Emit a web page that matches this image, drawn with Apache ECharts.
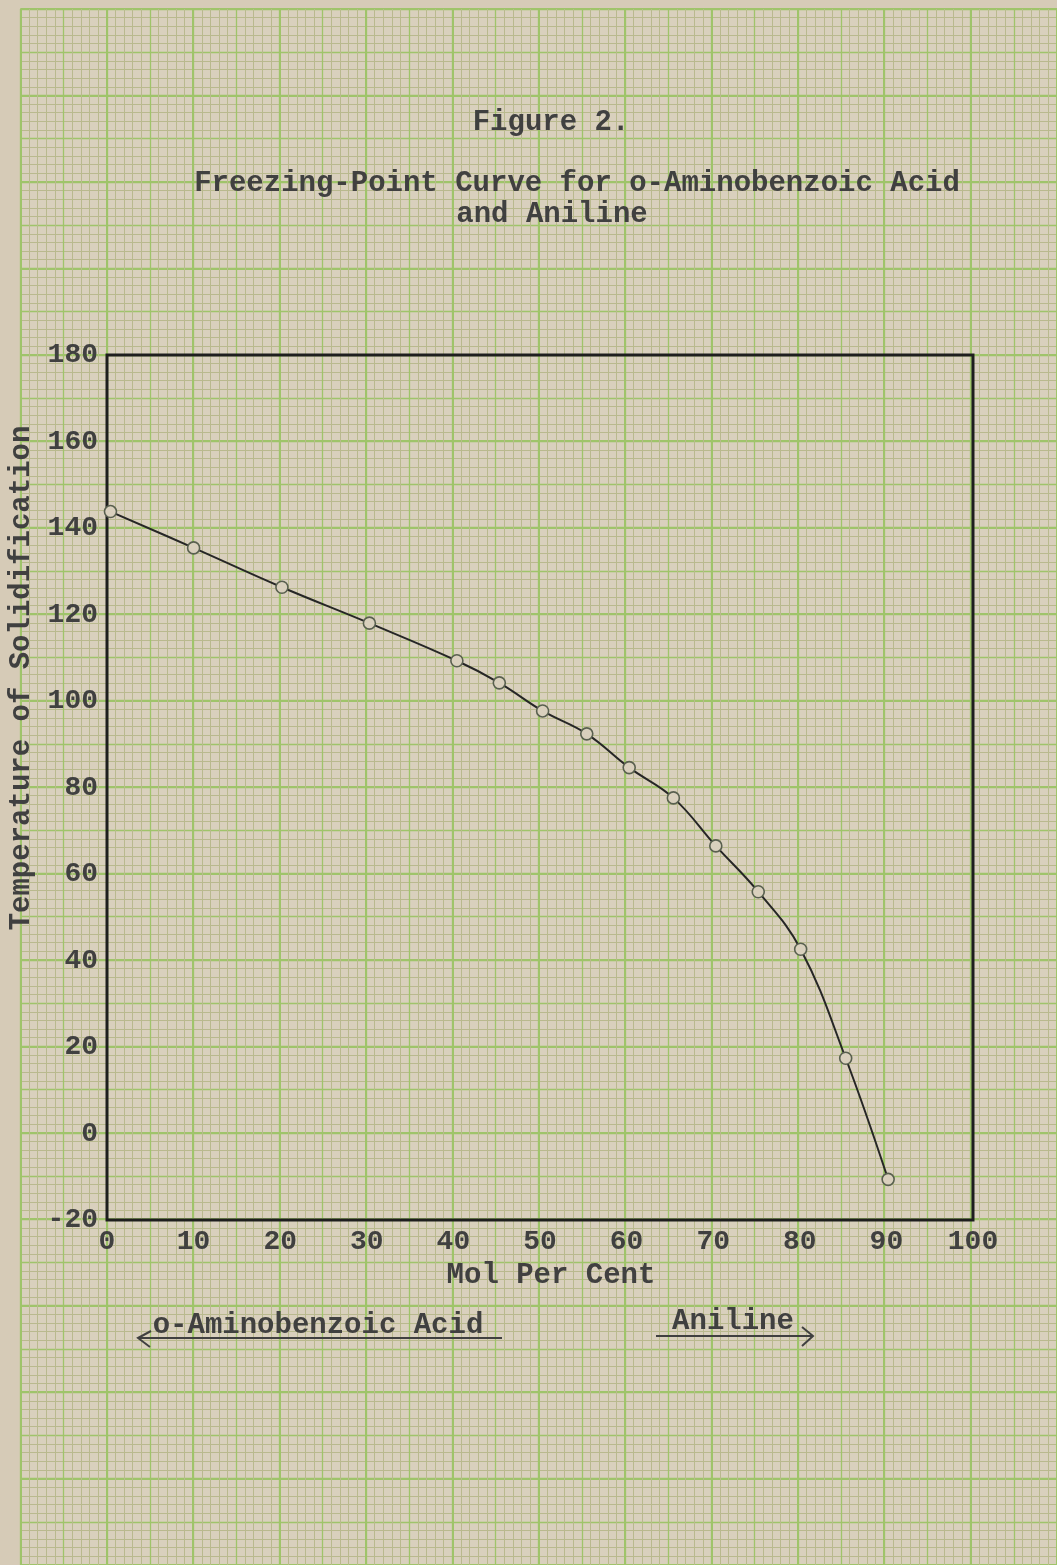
<!DOCTYPE html>
<html>
<head>
<meta charset="utf-8">
<title>Freezing-Point Curve</title>
<script src="https://cdn.jsdelivr.net/npm/echarts@6/dist/echarts.min.js"></script>
<style>
  html, body { margin: 0; padding: 0; background: #d6cbb7; }
  #chart { width: 1057px; height: 1565px; }
</style>
</head>
<body>
<div id="chart"></div>
<script>
// mol per cent of aniline, and temperature of solidification
const molPercent = [0.4, 10, 20.2, 30.3, 40.4, 45.3, 50.3, 55.4, 60.3, 65.4, 70.3, 75.2, 80.1, 85.3, 90.2];
const solidTemp = [143.8, 135.4, 126.3, 118.0, 109.3, 104.2, 97.7, 92.4, 84.6, 77.6, 66.5, 55.9, 42.6, 17.4, -10.6];

const titleLines = ["Figure 2.", "Freezing-Point Curve for o-Aminobenzoic Acid", "and Aniline"];
const xName = "Mol Per Cent";
const yName = "Temperature of Solidification";
const leftNote = "o-Aminobenzoic Acid";
const rightNote = "Aniline";

const FONT = "'Liberation Mono', 'Courier New', monospace";
const TXT = "bold 29px " + FONT;
const INK = "#404040";
const PAPER = "#d9d0bd";
const MINOR = "#b9b98e";
const MAJOR = "#9fc46a";

var chart = echarts.init(document.getElementById("chart"));

// graph paper, drawn as two background grids in the same units as the plot
var paperGrid = { left: 20.4, top: 9, width: 1039.2, height: 1557, z: 0 };
var hidden = { axisLine: { show: false }, axisTick: { show: false }, axisLabel: { show: false } };

function paperAxis(min, max, interval, extra) {
  return Object.assign({ type: "value", min: min, max: max, interval: interval, silent: true, z: 1 }, hidden, extra);
}

function note(text, x, y, extra) {
  return Object.assign({
    type: "text", x: x, y: y, z: 10,
    style: { text: text, font: TXT, fill: INK, textAlign: "center", textVerticalAlign: "middle" }
  }, extra);
}

function stroke(pts) {
  return {
    type: "polyline", z: 10,
    shape: { points: pts },
    style: { stroke: INK, lineWidth: 2, fill: null }
  };
}

var points = molPercent.map(function (x, i) {
  return [x, solidTemp[i]];
});

chart.setOption({
  backgroundColor: "#d6cbb7",
  animation: false,
  grid: [
    Object.assign({ show: true, backgroundColor: PAPER, borderWidth: 0 }, paperGrid),
    Object.assign({ show: false }, paperGrid),
    {
      left: 107, top: 355, width: 866, height: 865, z: 3,
      show: true, borderColor: "#1e1e1e", borderWidth: 3, backgroundColor: "transparent"
    }
  ],
  xAxis: [
    paperAxis(-10, 110, 5, {
      gridIndex: 0,
      splitLine: { show: true, lineStyle: { color: MAJOR, width: 1.3 } },
      minorTick: { show: false, splitNumber: 5 },
      minorSplitLine: { show: true, lineStyle: { color: MINOR, width: 1 } }
    }),
    paperAxis(-10, 110, 10, {
      gridIndex: 1,
      splitLine: { show: true, lineStyle: { color: MAJOR, width: 2 } }
    }),
    {
      type: "value", gridIndex: 2, min: 0, max: 100, interval: 10, z: 4,
      axisLine: { show: false }, axisTick: { show: false }, splitLine: { show: false },
      axisLabel: { fontFamily: FONT, fontWeight: "bold", fontSize: 28, color: INK, margin: 8 },
      name: xName, nameLocation: "middle", nameGap: 37,
      nameTextStyle: { fontFamily: FONT, fontWeight: "bold", fontSize: 29, color: INK, padding: [0, 0, 0, 22] }
    }
  ],
  yAxis: [
    paperAxis(-100, 260, 10, {
      gridIndex: 0,
      splitLine: { show: true, lineStyle: { color: MAJOR, width: 1.3 } },
      minorTick: { show: false, splitNumber: 5 },
      minorSplitLine: { show: true, lineStyle: { color: MINOR, width: 1 } }
    }),
    paperAxis(-100, 260, 20, {
      gridIndex: 1,
      splitLine: { show: true, lineStyle: { color: MAJOR, width: 2 } }
    }),
    {
      type: "value", gridIndex: 2, min: -20, max: 180, interval: 20, z: 4,
      axisLine: { show: false }, axisTick: { show: false }, splitLine: { show: false },
      axisLabel: {
        fontFamily: FONT, fontWeight: "bold", fontSize: 28, color: INK, margin: 9,
        verticalAlign: "middle", padding: [0, 0, 12, 0]
      }
    }
  ],
  graphic: [
    note(titleLines[0], 551, 123),
    note(titleLines[1], 577, 184),
    note(titleLines[2], 552, 215),
    note(yName, 22, 678, { rotation: Math.PI / 2 }),
    note(leftNote, 318, 1326),
    stroke([[502, 1338], [138, 1338]]),
    stroke([[151, 1331], [138, 1338], [150, 1347]]),
    note(rightNote, 733, 1322),
    stroke([[656, 1336], [813, 1336]]),
    stroke([[802, 1327], [813, 1336], [802, 1346]])
  ],
  series: [
    {
      type: "line",
      xAxisIndex: 2,
      yAxisIndex: 2,
      data: points,
      smooth: 0.4,
      symbol: "circle",
      symbolSize: 12,
      lineStyle: { color: "#262626", width: 2 },
      itemStyle: { color: PAPER, borderColor: "#59604f", borderWidth: 1.6 },
      z: 5
    }
  ]
});

window.addEventListener("resize", function () {
  chart.resize();
});
</script>
</body>
</html>
